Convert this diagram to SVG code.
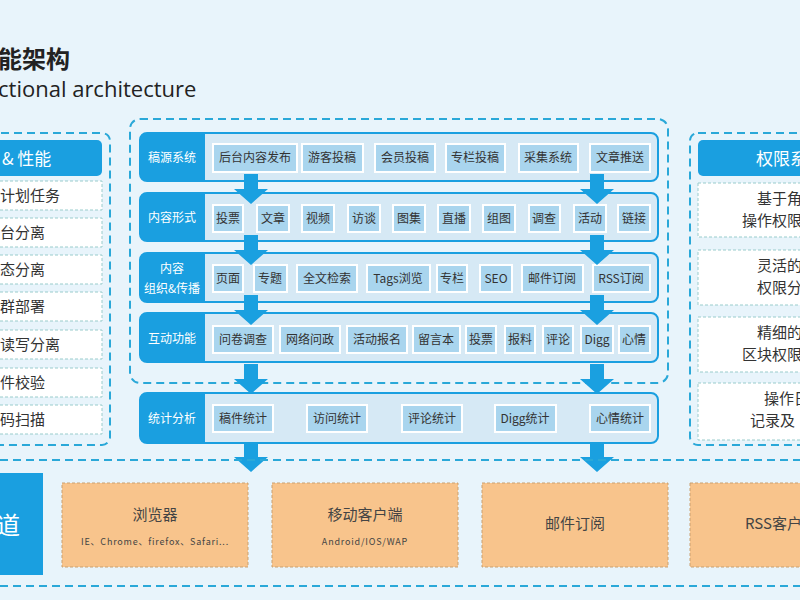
<svg xmlns="http://www.w3.org/2000/svg" width="800" height="600" viewBox="0 0 800 600">
<defs>
<style>
text{font-family:"Noto Sans CJK SC","Liberation Sans",sans-serif}
.dash{fill:none;stroke:#2aa8d8;stroke-width:2;stroke-dasharray:8 5}
.lbl{fill:#1a9fe0}
.row{fill:#d6e9f5;stroke:#1a9fe0;stroke-width:2}
.it{fill:#a9d5ee;stroke:#fff;stroke-width:2}
.t{font-size:12px;fill:#333;text-anchor:middle}
.w{font-size:12px;fill:#fff;text-anchor:middle}
.side{fill:#fff;stroke:#9cc;stroke-width:1;stroke-dasharray:3 2}
.st{font-size:15px;fill:#333}
.or{fill:#f8c48c;stroke:#c9a070;stroke-width:1;stroke-dasharray:3 2}
.arr{fill:#1aa0e0}
</style>
<path id="ar" d="M-7,0 H7 V15 H17 L0,30 L-17,15 H-7 Z"/>
</defs>
<rect width="800" height="600" fill="#e8f4fb"/>
<text x="-2" y="68" font-size="24" font-weight="bold" fill="#222">能架构</text>
<text x="-2" y="97" font-size="22" fill="#222" style="font-family:'Open Sans','Liberation Sans',sans-serif">ctional architecture</text>

<g id="left">
<rect x="-20" y="133" width="130" height="312" rx="8" class="dash" fill="#cfe6f3"/>
<rect x="-20" y="140" width="122" height="36" rx="5" class="lbl"/>
<text x="2" y="165" font-size="17" fill="#fff">&amp; 性能</text>
<rect x="-20" y="181" width="122" height="29" class="side"/><text x="0" y="201" class="st">计划任务</text>
<rect x="-20" y="218" width="122" height="29" class="side"/><text x="0" y="238" class="st">台分离</text>
<rect x="-20" y="255" width="122" height="29" class="side"/><text x="0" y="275" class="st">态分离</text>
<rect x="-20" y="292" width="122" height="29" class="side"/><text x="0" y="312" class="st">群部署</text>
<rect x="-20" y="330" width="122" height="29" class="side"/><text x="0" y="350" class="st">读写分离</text>
<rect x="-20" y="368" width="122" height="29" class="side"/><text x="0" y="388" class="st">件校验</text>
<rect x="-20" y="405" width="122" height="29" class="side"/><text x="0" y="425" class="st">码扫描</text>
</g>

<rect x="130" y="119" width="538" height="264" rx="10" class="dash"/>

<g id="row1">
<rect x="140" y="133" width="518" height="48" rx="7" class="row"/>
<path d="M147,133 H205 V181 H147 A7,7 0 0 1 140,174 V140 A7,7 0 0 1 147,133Z" class="lbl"/>
<text x="172" y="162" class="w">稿源系统</text>
<rect x="213" y="144" width="84" height="28" class="it"/><text x="255" y="162" class="t">后台内容发布</text>
<rect x="302" y="144" width="61" height="28" class="it"/><text x="332" y="162" class="t">游客投稿</text>
<rect x="375" y="144" width="60" height="28" class="it"/><text x="405" y="162" class="t">会员投稿</text>
<rect x="446" y="144" width="59" height="28" class="it"/><text x="475" y="162" class="t">专栏投稿</text>
<rect x="519" y="144" width="59" height="28" class="it"/><text x="548" y="162" class="t">采集系统</text>
<rect x="590" y="144" width="60" height="28" class="it"/><text x="620" y="162" class="t">文章推送</text>
</g>
<g id="row2">
<rect x="140" y="193" width="518" height="48" rx="7" class="row"/>
<path d="M147,193 H205 V241 H147 A7,7 0 0 1 140,234 V200 A7,7 0 0 1 147,193Z" class="lbl"/>
<text x="172" y="222" class="w">内容形式</text>
<rect x="213" y="205" width="30" height="27" class="it"/><text x="228" y="223" class="t">投票</text>
<rect x="257" y="205" width="32" height="27" class="it"/><text x="273" y="223" class="t">文章</text>
<rect x="302" y="205" width="32" height="27" class="it"/><text x="318" y="223" class="t">视频</text>
<rect x="348" y="205" width="32" height="27" class="it"/><text x="364" y="223" class="t">访谈</text>
<rect x="393" y="205" width="32" height="27" class="it"/><text x="409" y="223" class="t">图集</text>
<rect x="438" y="205" width="32" height="27" class="it"/><text x="454" y="223" class="t">直播</text>
<rect x="483" y="205" width="32" height="27" class="it"/><text x="499" y="223" class="t">组图</text>
<rect x="529" y="205" width="31" height="27" class="it"/><text x="544" y="223" class="t">调查</text>
<rect x="574" y="205" width="32" height="27" class="it"/><text x="590" y="223" class="t">活动</text>
<rect x="618" y="205" width="32" height="27" class="it"/><text x="634" y="223" class="t">链接</text>
</g>
<g id="row3">
<rect x="140" y="253" width="518" height="49" rx="7" class="row"/>
<path d="M147,253 H205 V302 H147 A7,7 0 0 1 140,295 V260 A7,7 0 0 1 147,253Z" class="lbl"/>
<text x="172" y="273" class="w">内容</text>
<text x="172" y="293" class="w">组织&amp;传播</text>
<rect x="213" y="265" width="30" height="27" class="it"/><text x="228" y="283" class="t">页面</text>
<rect x="254" y="265" width="33" height="27" class="it"/><text x="270" y="283" class="t">专题</text>
<rect x="297" y="265" width="60" height="27" class="it"/><text x="327" y="283" class="t">全文检索</text>
<rect x="367" y="265" width="63" height="27" class="it"/><text x="398" y="283" class="t">Tags浏览</text>
<rect x="437" y="265" width="30" height="27" class="it"/><text x="452" y="283" class="t">专栏</text>
<rect x="480" y="265" width="32" height="27" class="it"/><text x="496" y="283" class="t">SEO</text>
<rect x="522" y="265" width="61" height="27" class="it"/><text x="552" y="283" class="t">邮件订阅</text>
<rect x="593" y="265" width="57" height="27" class="it"/><text x="621" y="283" class="t">RSS订阅</text>
</g>
<g id="row4">
<rect x="140" y="313" width="518" height="49" rx="7" class="row"/>
<path d="M147,313 H205 V362 H147 A7,7 0 0 1 140,355 V320 A7,7 0 0 1 147,313Z" class="lbl"/>
<text x="172" y="343" class="w">互动功能</text>
<rect x="213" y="326" width="60" height="27" class="it"/><text x="243" y="344" class="t">问卷调查</text>
<rect x="280" y="326" width="60" height="27" class="it"/><text x="310" y="344" class="t">网络问政</text>
<rect x="347" y="326" width="60" height="27" class="it"/><text x="377" y="344" class="t">活动报名</text>
<rect x="413" y="326" width="47" height="27" class="it"/><text x="436" y="344" class="t">留言本</text>
<rect x="466" y="326" width="30" height="27" class="it"/><text x="481" y="344" class="t">投票</text>
<rect x="505" y="326" width="30" height="27" class="it"/><text x="520" y="344" class="t">报料</text>
<rect x="543" y="326" width="30" height="27" class="it"/><text x="558" y="344" class="t">评论</text>
<rect x="581" y="326" width="32" height="27" class="it"/><text x="597" y="344" class="t">Digg</text>
<rect x="619" y="326" width="31" height="27" class="it"/><text x="634" y="344" class="t">心情</text>
</g>
<g id="row5">
<rect x="140" y="393" width="518" height="50" rx="7" class="row"/>
<path d="M147,393 H205 V443 H147 A7,7 0 0 1 140,436 V400 A7,7 0 0 1 147,393Z" class="lbl"/>
<text x="172" y="423" class="w">统计分析</text>
<rect x="213" y="405" width="60" height="27" class="it"/><text x="243" y="423" class="t">稿件统计</text>
<rect x="307" y="405" width="60" height="27" class="it"/><text x="337" y="423" class="t">访问统计</text>
<rect x="402" y="405" width="60" height="27" class="it"/><text x="432" y="423" class="t">评论统计</text>
<rect x="495" y="405" width="61" height="27" class="it"/><text x="525" y="423" class="t">Digg统计</text>
<rect x="590" y="405" width="60" height="27" class="it"/><text x="620" y="423" class="t">心情统计</text>
</g>

<g id="connectors" class="arr">
<use href="#ar" x="251" y="174"/><use href="#ar" x="597" y="174"/>
<use href="#ar" x="251" y="235"/><use href="#ar" x="597" y="235"/>
<use href="#ar" x="251" y="295"/><use href="#ar" x="597" y="295"/>
<use href="#ar" x="251" y="364"/><use href="#ar" x="597" y="364"/>
<use href="#ar" x="251" y="442"/><use href="#ar" x="597" y="442"/>
</g>

<g id="right">
<rect x="690" y="133" width="130" height="312" rx="8" class="dash" fill="#cfe6f3"/>
<rect x="698" y="140" width="120" height="36" rx="5" class="lbl"/>
<text x="756" y="165" font-size="17" fill="#fff">权限系</text>
<rect x="698" y="183" width="120" height="54" class="side"/><text x="757" y="204" class="st">基于角</text><text x="742" y="226" class="st">操作权限</text>
<rect x="698" y="250" width="120" height="55" class="side"/><text x="757" y="271" class="st">灵活的</text><text x="757" y="293" class="st">权限分</text>
<rect x="698" y="317" width="120" height="55" class="side"/><text x="757" y="338" class="st">精细的</text><text x="742" y="360" class="st">区块权限</text>
<rect x="698" y="383" width="120" height="57" class="side"/><text x="764" y="404" class="st">操作日</text><text x="750" y="426" class="st">记录及</text>
</g>

<line x1="0" y1="460" x2="800" y2="460" class="dash"/>
<line x1="0" y1="586" x2="800" y2="586" class="dash"/>
<g id="channel">
<rect x="-10" y="473" width="53" height="102" fill="#1a9fe0"/>
<text x="-4" y="534" font-size="24" fill="#fff">道</text>
</g>
<g id="browser"><rect x="62" y="483" width="186" height="84" class="or"/>
<text x="155" y="520" font-size="15" fill="#444" text-anchor="middle">浏览器</text>
<text x="155" y="545" font-size="9" fill="#444" text-anchor="middle" letter-spacing="0.8">IE、Chrome、firefox、Safari...</text></g>
<g id="mobile"><rect x="272" y="483" width="186" height="84" class="or"/>
<text x="365" y="520" font-size="15" fill="#444" text-anchor="middle">移动客户端</text>
<text x="365" y="545" font-size="9" fill="#444" text-anchor="middle" letter-spacing="0.8">Android/IOS/WAP</text></g>
<g id="mail"><rect x="482" y="483" width="186" height="84" class="or"/>
<text x="575" y="529" font-size="15" fill="#444" text-anchor="middle">邮件订阅</text></g>
<g id="rss"><rect x="690" y="483" width="130" height="84" class="or"/>
<text x="745" y="529" font-size="15" fill="#444">RSS客户</text></g>
</svg>
